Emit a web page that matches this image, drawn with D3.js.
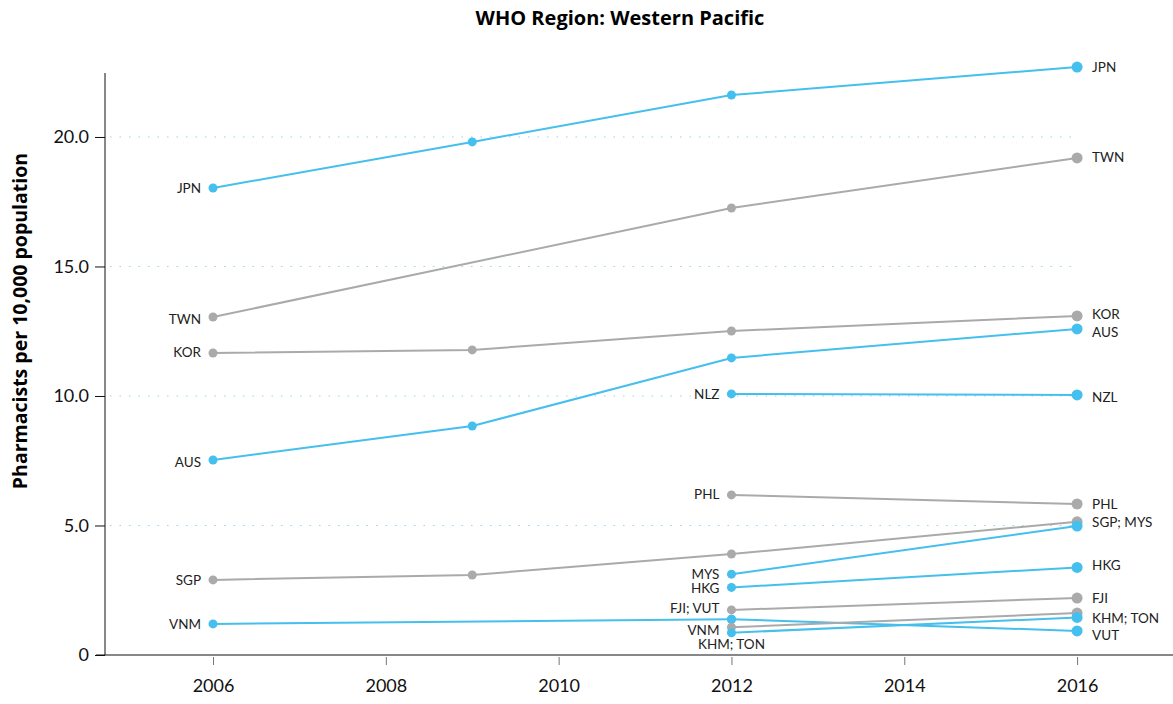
<!DOCTYPE html>
<html>
<head>
  <meta charset="utf-8">
  <script src="https://d3js.org/d3.v7.min.js"></script>
  <style>
    body { margin: 0; background: #fff; }
    * { font-family: 'Lato', 'Noto Sans', sans-serif; }
    .title { font-family: 'Open Sans', sans-serif; font-weight: bold; font-size: 20px; }
    .ylabel { font-family: 'Open Sans', sans-serif; font-weight: bold; font-size: 19.5px; }
    .tick text { font-size: 18px; fill: #111; }
    .lbl { font-size: 13.5px; fill: #222; }
  </style>
</head>
<body>
  <div id="chart"></div>
  <script>
    // years on the x axis
    const years = [2006, 2008, 2010, 2012, 2014, 2016];
    const yTicks = [0, 5, 10, 15, 20];

    // each visible line: colour group and its points [year, value]
    const seriesNames = ['JPN', 'TWN', 'KOR', 'AUS', 'NZL', 'PHL', 'SGP', 'MYS', 'HKG', 'FJI', 'VNM', 'VUT', 'KHM', 'TON'];
    const seriesColor = ['blue', 'grey', 'grey', 'blue', 'blue', 'grey', 'grey', 'blue', 'blue', 'grey', 'blue', 'blue', 'grey', 'blue'];
    const seriesValues = [
      [[2006, 18.03], [2009, 19.81], [2012, 21.62], [2016, 22.70]],
      [[2006, 13.05], [2012, 17.26], [2016, 19.19]],
      [[2006, 11.66], [2009, 11.78], [2012, 12.51], [2016, 13.09]],
      [[2006, 7.53], [2009, 8.84], [2012, 11.47], [2016, 12.59]],
      [[2012, 10.08], [2016, 10.04]],
      [[2012, 6.18], [2016, 5.83]],
      [[2006, 2.90], [2009, 3.09], [2012, 3.90], [2016, 5.14]],
      [[2012, 3.12], [2016, 4.98]],
      [[2012, 2.61], [2016, 3.38]],
      [[2012, 1.74], [2016, 2.20]],
      [[2006, 1.20], [2012, 1.38]],
      [[2012, 1.38], [2016, 0.93]],
      [[2012, 1.07], [2016, 1.62]],
      [[2012, 0.86], [2016, 1.45]]
    ];

    // labels: text, year, value it sits at, side
    const labelText = ['JPN', 'TWN', 'KOR', 'AUS', 'SGP', 'VNM',
      'NLZ', 'PHL', 'MYS', 'HKG', 'FJI; VUT', 'VNM', 'KHM; TON',
      'JPN', 'TWN', 'KOR', 'AUS', 'NZL', 'PHL', 'SGP; MYS', 'HKG', 'FJI', 'KHM; TON', 'VUT'];
    const labelYear = [2006, 2006, 2006, 2006, 2006, 2006,
      2012, 2012, 2012, 2012, 2012, 2012, 2012,
      2016, 2016, 2016, 2016, 2016, 2016, 2016, 2016, 2016, 2016, 2016];
    const labelValue = [18.03, 12.97, 11.70, 7.45, 2.90, 1.20,
      10.08, 6.20, 3.12, 2.58, 1.81, 0.97, 0.42,
      22.70, 19.21, 13.15, 12.45, 9.96, 5.83, 5.14, 3.47, 2.20, 1.43, 0.76];
    const labelSide = ['left', 'left', 'left', 'left', 'left', 'left',
      'left', 'left', 'left', 'left', 'left', 'left', 'below',
      'right', 'right', 'right', 'right', 'right', 'right', 'right', 'right', 'right', 'right', 'right'];

    const colors = { blue: '#45bfee', grey: '#aaaaaa' };

    const W = 1173, H = 704;
    const margin = { top: 73, right: 0, bottom: 49, left: 105 };

    const svg = d3.select('#chart').append('svg')
      .attr('width', W).attr('height', H);

    const x = d3.scaleLinear()
      .domain([2004.75, 2017.11])
      .range([margin.left, W - margin.right]);
    const y = d3.scaleLinear()
      .domain([0, 22.47])
      .range([H - margin.bottom, margin.top]);

    svg.append('text')
      .attr('class', 'title')
      .attr('x', 620).attr('y', 25)
      .attr('text-anchor', 'middle')
      .text('WHO Region: Western Pacific');

    // dotted gridlines
    svg.append('g').selectAll('line')
      .data(yTicks.filter(d => d > 0))
      .join('line')
      .attr('x1', 110).attr('x2', x(2016))
      .attr('y1', d => y(d)).attr('y2', d => y(d))
      .attr('stroke', '#8fd4f2')
      .attr('stroke-width', 1)
      .attr('stroke-dasharray', '1.5,8');

    // y axis
    const yAxis = svg.append('g')
      .attr('transform', `translate(${margin.left},0)`)
      .call(d3.axisLeft(y).tickValues(yTicks)
        .tickFormat(d => d === 0 ? '0' : d3.format('.1f')(d))
        .tickSize(10).tickPadding(6));
    yAxis.select('.domain').attr('d', `M0,${y(22.47)}V${y(0)}`).attr('stroke', '#111');
    yAxis.selectAll('.tick line').attr('stroke', '#111');

    // x axis
    const xAxis = svg.append('g')
      .attr('transform', `translate(0,${y(0)})`)
      .call(d3.axisBottom(x).tickValues(years).tickFormat(d3.format('d'))
        .tickSize(0).tickPadding(24));
    xAxis.select('.domain').attr('d', `M96,0H${W}`).attr('stroke', '#111');
    xAxis.selectAll('.tick').append('line')
      .attr('y1', 2).attr('y2', 10).attr('stroke', '#777');

    svg.append('text')
      .attr('class', 'ylabel')
      .attr('transform', `translate(27,321) rotate(-90)`)
      .attr('text-anchor', 'middle')
      .text('Pharmacists per 10,000 population');

    const line = d3.line().x(d => x(d[0])).y(d => y(d[1]));

    const series = seriesNames.map((n, i) => ({ name: n, color: colors[seriesColor[i]], values: seriesValues[i] }));

    svg.append('g').selectAll('path')
      .data(series)
      .join('path')
      .attr('d', d => line(d.values))
      .attr('fill', 'none')
      .attr('stroke', d => d.color)
      .attr('stroke-width', 2);

    const pts = series.flatMap(s => s.values.map(v => ({ year: v[0], value: v[1], color: s.color })));
    svg.append('g').selectAll('circle')
      .data(pts)
      .join('circle')
      .attr('cx', d => x(d.year))
      .attr('cy', d => y(d.value))
      .attr('r', d => d.year === 2016 ? 5.5 : 4.5)
      .attr('fill', d => d.color);

    const labels = labelText.map((t, i) => ({ text: t, year: labelYear[i], value: labelValue[i], side: labelSide[i] }));
    svg.append('g').selectAll('text')
      .data(labels)
      .join('text')
      .attr('class', 'lbl')
      .attr('x', d => x(d.year) + (d.side === 'left' ? -12 : d.side === 'right' ? 15 : 0))
      .attr('y', d => y(d.value))
      .attr('dy', '0.35em')
      .attr('text-anchor', d => d.side === 'left' ? 'end' : d.side === 'right' ? 'start' : 'middle')
      .text(d => d.text);
  </script>
</body>
</html>
